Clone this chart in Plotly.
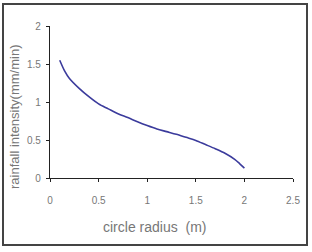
import plotly.graph_objects as go

radius = [0.1, 0.15, 0.2, 0.3, 0.4, 0.5, 0.6, 0.7, 0.8, 0.9, 1.0, 1.1, 1.2, 1.3, 1.4, 1.5, 1.6, 1.7, 1.8, 1.9, 1.95, 2.0]
intensity = [1.55, 1.41, 1.31, 1.18, 1.07, 0.975, 0.91, 0.845, 0.795, 0.74, 0.69, 0.645, 0.61, 0.575, 0.535, 0.495, 0.44, 0.385, 0.325, 0.245, 0.19, 0.13]
x_ticks = [0, 0.5, 1, 1.5, 2, 2.5]
x_labels = ["0", "0.5", "1", "1.5", "2", "2.5"]
y_ticks = [0, 0.5, 1, 1.5, 2]
y_labels = ["0", "0.5", "1", "1.5", "2"]

W, H = 312, 252
L, R, T, B = 50, 19, 26, 74
pw, ph = W - L - R, H - T - B

def px(xp):
    return (xp - L) / pw

def py(yp):
    return (H - B - yp) / ph

fig = go.Figure()
fig.add_trace(go.Scatter(x=radius, y=intensity, mode="lines",
                         line=dict(color="#3b3b9c", width=1.6, shape="spline", smoothing=0.8),
                         showlegend=False))

axis_common = dict(showgrid=False, zeroline=False, showline=True, linecolor="#222", linewidth=1.2,
                   ticks="outside", ticklen=3, tickcolor="#222",
                   tickfont=dict(family="Liberation Sans, Arial", size=10, color="#777"))
fig.update_xaxes(range=[0, 2.5], tickvals=x_ticks, ticktext=x_labels, ticklabelstandoff=10, **axis_common)
fig.update_yaxes(range=[0, 2], tickvals=y_ticks, ticktext=y_labels, ticklabelstandoff=3, **axis_common)

fig.add_annotation(text="circle radius  (m)", xref="paper", yref="paper", x=px(154), y=py(227),
                   showarrow=False, font=dict(family="Liberation Sans, Arial", size=14, color="#777"),
                   xanchor="center", yanchor="middle")
fig.add_annotation(text="rainfall intensity(mm/min)", xref="paper", yref="paper", x=px(15), y=py(117),
                   showarrow=False, textangle=-90,
                   font=dict(family="Liberation Sans, Arial", size=13, color="#777"),
                   xanchor="center", yanchor="middle")

fig.add_shape(type="rect", xref="paper", yref="paper", x0=px(3), x1=px(307), y0=py(245), y1=py(4),
              line=dict(color="#444", width=2), fillcolor="rgba(0,0,0,0)")

fig.update_layout(width=W, height=H, margin=dict(l=L, r=R, t=T, b=B),
                  paper_bgcolor="white", plot_bgcolor="white")
fig.write_html("out.html")
